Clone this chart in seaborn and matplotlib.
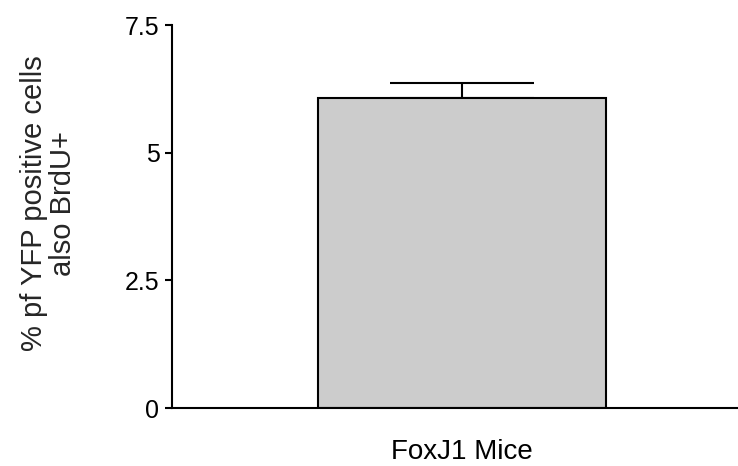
import matplotlib
matplotlib.use("Agg")
import matplotlib.pyplot as plt
import seaborn as sns
import pandas as pd

# Data
groups = ["FoxJ1 Mice"]
means = [6.07]
sems = [0.30]
y_ticks = [0, 2.5, 5, 7.5]
y_tick_labels = ["0", "2.5", "5", "7.5"]

sns.set_style("ticks")
plt.rcParams["font.family"] = ["Liberation Sans", "DejaVu Sans"]

df = pd.DataFrame({"group": groups, "value": means})

fig = plt.figure(figsize=(7.38, 4.66), dpi=100)
ax = fig.add_axes([172 / 738, 58 / 466, 566 / 738, 383 / 466])

sns.barplot(data=df, x="group", y="value", errorbar=None, color="#cccccc",
            edgecolor="black", linewidth=1.5, width=0.8, saturation=1, ax=ax)
ax.errorbar(x=[0], y=means, yerr=[[0], sems], fmt="none", ecolor="black",
            elinewidth=1.5, capsize=51.5, capthick=1.5, zorder=0)

ax.set_xlim(-290 / 288 * 0.8, 276 / 288 * 0.8)
ax.set_ylim(0, 7.5)
ax.set_yticks(y_ticks)
ax.set_yticklabels(y_tick_labels)

for s in ["top", "right"]:
    ax.spines[s].set_visible(False)
for s in ["left", "bottom"]:
    ax.spines[s].set_linewidth(1.5)
    ax.spines[s].set_color("black")

ax.tick_params(axis="y", direction="out", length=5, width=1.5, labelsize=18,
               pad=4, colors="black")
ax.tick_params(axis="x", length=0, labelsize=20, pad=22, colors="black")
ax.set_xlabel("")
ax.set_ylabel("% pf YFP positive cells\nalso BrdU+", fontsize=21,
              linespacing=1.05)
ax.yaxis.set_label_coords(-0.168, 0.535)

fig.savefig("out.png", dpi=100, facecolor="white")
